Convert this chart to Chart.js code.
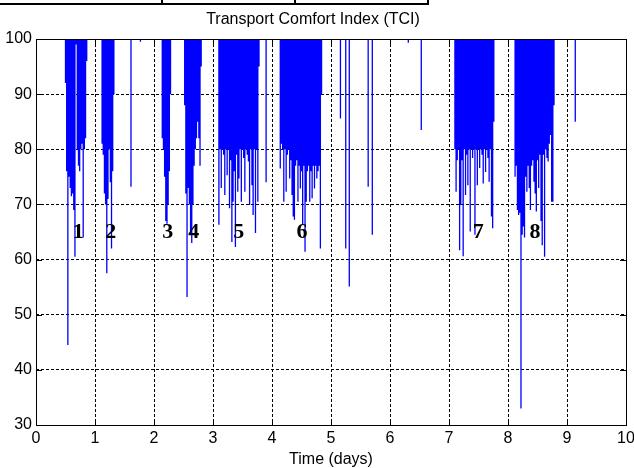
<!DOCTYPE html>
<html>
<head>
<meta charset="utf-8">
<script src="https://cdn.jsdelivr.net/npm/chart.js@4.4.1/dist/chart.umd.min.js"></script>
<style>
  html, body { margin: 0; padding: 0; background: #fff; }
  #wrap { position: relative; width: 634px; height: 468px; overflow: hidden; }
  #tci { position: absolute; left: 0; top: 0; }
  .tblLine { position: absolute; background: #000; }
</style>
</head>
<body>
<div id="wrap">
  <canvas id="tci" width="634" height="468"></canvas>
  <!-- bottom edge of the table that sits above the figure -->
  <div class="tblLine" style="left:0;top:3px;width:429px;height:2px"></div>
  <div class="tblLine" style="left:161px;top:0;width:2px;height:5px"></div>
  <div class="tblLine" style="left:294px;top:0;width:2px;height:5px"></div>
  <div class="tblLine" style="left:427px;top:0;width:2px;height:5px"></div>
</div>
<script>
'use strict';

/* ── Axes ── */
const DAY_MIN = 0;
const DAY_MAX = 10;
const TCI_MIN = 30;
const TCI_MAX = 100;
const dayTicks = [0, 1, 2, 3, 4, 5, 6, 7, 8, 9, 10];
const tciTicks = [30, 40, 50, 60, 70, 80, 90, 100];

/* ── Recording: TCI sits at 100 except during the trips ── */
const recordStart = 0.49;
const recordEnd   = 9.33;
const BURST_STEP  = 0.02;   // days between readings inside a trip

/* first reading of each trip (days) */
const burstStart = [0.50, 1.12, 2.14, 2.52, 3.10, 4.14, 7.10, 8.12];

/* lowest TCI of each reading, trip by trip */
const burst1 = [92, 76, 44.5, 75, 73, 71.5, 72, 69, 60.5, 99, 80, 77, 76, 80, 81, 64, 80, 82, 96];
const burst2 = [81, 79, 72, 70, 57.5, 71, 80, 74, 62, 76, 90];
const burst3 = [82, 80, 75, 67, 66.5, 70, 76, 90];
const burst4 = [88, 72, 53.2, 73, 70, 64.5, 63, 70, 77, 80, 82, 85, 82, 77, 95];
const burst5 = [66.3, 80, 73, 80, 79, 71.7, 80, 75.3, 80, 69.3, 78, 63.2, 70.5, 76, 62.3, 79, 72.3, 74.7,
                80, 70.5, 80, 78.4, 72.3, 80, 79, 77.8, 69.9, 80, 73.5, 68.1, 80, 64.8, 80, 70.5, 95];
const burst6 = [76.5, 81, 80, 70.5, 80, 72.3, 79, 80, 74.7, 78, 71.7, 67.8, 67.2, 77, 78, 70.5, 77, 72.9,
                76, 66.3, 77, 61.4, 70.5, 76, 77, 70.5, 76, 71.1, 77, 72.9, 77, 74.7, 76, 77, 62, 90];
const burst7 = [80, 72.3, 78, 80, 61.7, 69.9, 78, 60.6, 80, 71.7, 79, 73.5, 80, 65.1, 80, 78.4, 80, 64.5,
                80, 73.5, 80, 76.6, 80, 79, 73.8, 80, 75.9, 80, 78.4, 74.1, 80, 67.8, 65.7, 85];
const burst8 = [75, 77, 69, 68.1, 68.5, 33, 64.5, 66, 64, 75, 72.3, 77, 73, 69, 77, 78, 74.1, 72, 68.7,
                78, 73, 79, 67, 62.6, 79, 60.5, 80, 78.4, 77.8, 81, 82.6, 70.5, 70.5, 88];

/* single drops outside the trips */
const singleDays = [1.61, 1.77, 3.90, 5.16, 5.25, 5.31, 5.63, 5.70, 6.31, 6.53, 9.14];
const singleLows = [73.2, 99.5, 74.0, 85.6, 62.0, 55.1, 73.2, 64.5, 99.3, 83.5, 85.0];

/* ── Trip annotations ── */
const tripLabels = ['1', '2', '3', '4', '5', '6', '7', '8'];
const tripLabelDays = [0.717, 1.268, 2.234, 2.673, 3.435, 4.51, 7.497, 8.458];
const TRIP_LABEL_TCI = 65;

/* ============================================================
   SERIE — cada leitura é uma queda vertical a partir de 100
   ============================================================ */
function buildSeries() {
  const bursts = [burst1, burst2, burst3, burst4, burst5, burst6, burst7, burst8];
  const drops = [];
  bursts.forEach((lows, b) => {
    lows.forEach((v, i) => drops.push([burstStart[b] + i * BURST_STEP, v]));
  });
  singleDays.forEach((d, i) => drops.push([d, singleLows[i]]));
  drops.sort((a, b) => a[0] - b[0]);

  const pts = [{ x: recordStart, y: TCI_MAX }];
  drops.forEach(([d, v]) => {
    pts.push({ x: d, y: TCI_MAX }, { x: d, y: v }, { x: d, y: TCI_MAX });
  });
  pts.push({ x: recordEnd, y: TCI_MAX });
  return pts;
}

const FONT = '"Liberation Sans", Arial, sans-serif';

/* moldura, marcas internas e rótulos das viagens */
const matlabAxes = {
  id: 'matlabAxes',
  afterDatasetsDraw(chart) {
    const { ctx, chartArea: a, scales: { x, y } } = chart;
    const TL = 6;
    ctx.save();
    ctx.strokeStyle = '#000';
    ctx.lineWidth = 1;
    ctx.setLineDash([]);
    ctx.beginPath();
    dayTicks.forEach(d => {
      const px = Math.round(x.getPixelForValue(d)) + 0.5;
      ctx.moveTo(px, a.bottom); ctx.lineTo(px, a.bottom - TL);
      ctx.moveTo(px, a.top);    ctx.lineTo(px, a.top + TL);
    });
    tciTicks.forEach(v => {
      const py = Math.round(y.getPixelForValue(v)) + 0.5;
      ctx.moveTo(a.left, py);  ctx.lineTo(a.left + TL, py);
      ctx.moveTo(a.right, py); ctx.lineTo(a.right - TL, py);
    });
    ctx.stroke();
    ctx.strokeRect(Math.round(a.left) + 0.5, Math.round(a.top) + 0.5,
                   Math.round(a.right - a.left), Math.round(a.bottom - a.top));

    ctx.fillStyle = '#000';
    ctx.font = 'bold 22px "Liberation Serif", "Times New Roman", serif';
    ctx.textAlign = 'center';
    ctx.textBaseline = 'middle';
    tripLabels.forEach((t, i) => {
      ctx.fillText(t, x.getPixelForValue(tripLabelDays[i]), y.getPixelForValue(TRIP_LABEL_TCI));
    });
    ctx.restore();
  },
};

new Chart(document.getElementById('tci'), {
  type: 'line',
  data: {
    datasets: [{
      label: 'TCI',
      data: buildSeries(),
      borderColor: '#0000ff',
      borderWidth: 1.3,
      borderJoinStyle: 'bevel',
      pointRadius: 0,
      tension: 0,
      fill: false,
    }],
  },
  options: {
    responsive: false,
    animation: false,
    events: [],
    layout: { padding: { left: 0, right: 8, top: 0, bottom: 0 } },
    plugins: {
      legend: { display: false },
      tooltip: { enabled: false },
      title: {
        display: true,
        text: 'Transport Comfort Index (TCI)',
        color: '#000',
        font: { family: FONT, size: 16, weight: 'normal' },
        padding: { top: 10, bottom: 9.8 },
      },
    },
    scales: {
      x: {
        type: 'linear',
        min: DAY_MIN, max: DAY_MAX,
        afterBuildTicks: s => { s.ticks = dayTicks.map(v => ({ value: v })); },
        afterFit: s => { s.height = 43; s.paddingLeft = 0; s.paddingRight = 0; },
        ticks: { color: '#000', font: { family: FONT, size: 16 }, padding: 4, maxRotation: 0, autoSkip: false },
        grid: { color: '#000', lineWidth: 1, drawTicks: false },
        border: { display: false, dash: [3, 2] },
        title: {
          display: true, text: 'Time (days)', color: '#000',
          font: { family: FONT, size: 16, lineHeight: 1.0 }, padding: { top: 0, bottom: 0 },
        },
      },
      y: {
        type: 'linear',
        min: TCI_MIN, max: TCI_MAX,
        afterBuildTicks: s => { s.ticks = tciTicks.map(v => ({ value: v })); },
        afterFit: s => { s.width = 36; s.paddingTop = 0; s.paddingBottom = 0; },
        ticks: { color: '#000', font: { family: FONT, size: 16 }, padding: 4, autoSkip: false },
        grid: { color: '#000', lineWidth: 1, drawTicks: false },
        border: { display: false, dash: [3, 2] },
      },
    },
  },
  plugins: [matlabAxes],
});
</script>
</body>
</html>
